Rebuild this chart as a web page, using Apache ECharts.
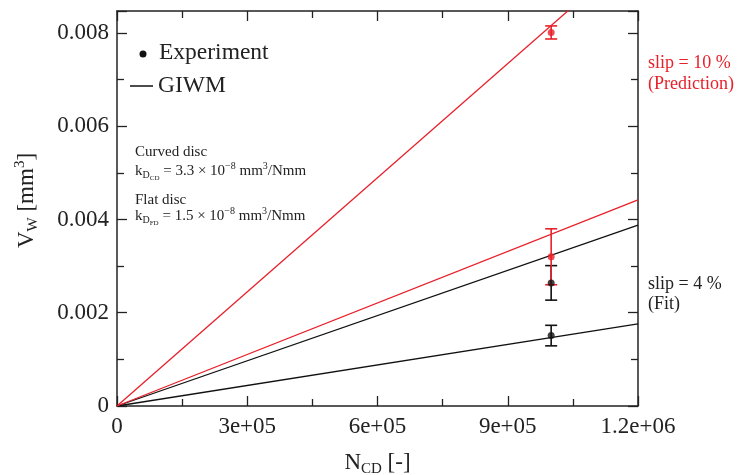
<!DOCTYPE html>
<html><head><meta charset="utf-8">
<script src="https://cdn.jsdelivr.net/npm/echarts@6/dist/echarts.min.js"></script>
<style>html,body{margin:0;padding:0;background:#fff}#c{width:740px;height:475px}</style>
</head><body><div id="c"></div>
<script>
// ---- data ----
const xMin = 0, xMax = 1200000, xStep = 300000;
const yMin = 0, yMax = 0.00847, yStep = 0.002;
const xTickLabels = {0:'0', 300000:'3e+05', 600000:'6e+05', 900000:'9e+05', 1200000:'1.2e+06'};
const yTickLabels = ['0','0.002','0.004','0.006','0.008'];
const lineX = [0, 1200000];
const predCurvedY = [0, 0.00979];   // slip = 10 %, curved disc (red)
const predFlatY   = [0, 0.00442];   // slip = 10 %, flat disc (red)
const fitCurvedY  = [0, 0.00388];   // slip = 4 %, curved disc (black)
const fitFlatY    = [0, 0.00176];   // slip = 4 %, flat disc (black)
const expX        = [1000000, 1000000];
const expRedY     = [0.00801, 0.00320];
const expRedErr   = [0.00014, 0.00060];
const expBlackY   = [0.00264, 0.00151];
const expBlackErr = [0.00037, 0.00022];

const RED = '#e8202a', BLACK = '#111';
const FONT = "'Liberation Serif', 'DejaVu Serif', serif";

const pairs = (xs, ys) => xs.map((x, i) => [x, ys[i]]);
const triples = (xs, ys, es) => xs.map((x, i) => [x, ys[i], es[i]]);

function errBar(color) {
  return function (params, api) {
    const x = api.value(0), y = api.value(1), e = api.value(2);
    const lo = api.coord([x, y - e]), hi = api.coord([x, y + e]);
    const w = 6;
    const st = { stroke: color, lineWidth: 1.6 };
    return { type: 'group', children: [
      { type: 'line', shape: { x1: lo[0], y1: lo[1], x2: hi[0], y2: hi[1] }, style: st },
      { type: 'line', shape: { x1: lo[0] - w, y1: lo[1], x2: lo[0] + w, y2: lo[1] }, style: st },
      { type: 'line', shape: { x1: hi[0] - w, y1: hi[1], x2: hi[0] + w, y2: hi[1] }, style: st }
    ]};
  };
}

const axisLine = { show: true, onZero: false, lineStyle: { color: '#222', width: 1.5 } };
const tick = { show: true, inside: true, length: 10, lineStyle: { color: '#222', width: 1.3 } };
const minor = { show: true, splitNumber: 2, length: 7, lineStyle: { color: '#222', width: 1.3 } };

const chart = echarts.init(document.getElementById('c'));
chart.setOption({
  animation: false,
  backgroundColor: '#fff',
  grid: { left: 117, right: 102, top: 11, bottom: 69, containLabel: false, outerBoundsMode: 'none' },
  xAxis: [
    { type: 'value', min: xMin, max: xMax, interval: xStep, position: 'bottom',
      axisLine, axisTick: tick, minorTick: minor, splitLine: { show: false },
      axisLabel: { margin: 9, color: '#222', fontFamily: FONT, fontSize: 23,
        formatter: v => xTickLabels[v] !== undefined ? xTickLabels[v] : '' },
      name: 'N{sub|CD} [-]', nameLocation: 'middle', nameGap: 42,
      nameTextStyle: { color: '#222', fontFamily: FONT, fontSize: 23,
        rich: { sub: { fontSize: 15, fontFamily: FONT, color: '#222', padding: [14, 0, 0, 0] } } } },
    { type: 'value', min: xMin, max: xMax, interval: xStep, position: 'top',
      axisLine, axisTick: tick, minorTick: minor, splitLine: { show: false }, axisLabel: { show: false } }
  ],
  yAxis: [
    { type: 'value', min: yMin, max: yMax, interval: yStep, position: 'left',
      axisLine, axisTick: tick, minorTick: minor, splitLine: { show: false },
      axisLabel: { margin: 8, color: '#222', fontFamily: FONT, fontSize: 23,
        formatter: v => { const i = Math.round(v / yStep); return Math.abs(v - i * yStep) < 1e-9 ? yTickLabels[i] : ''; } },
      name: 'V{sub|W} [mm{sup|3}]', nameLocation: 'middle', nameGap: 76, nameRotate: 90,
      nameTextStyle: { color: '#222', fontFamily: FONT, fontSize: 23, padding: [0, 0, 0, 16],
        rich: { sub: { fontSize: 15, fontFamily: FONT, color: '#222', padding: [14, 0, 0, 0] },
                sup: { fontSize: 15, fontFamily: FONT, color: '#222', padding: [0, 0, 12, 0] } } } },
    { type: 'value', min: yMin, max: yMax, interval: yStep, position: 'right',
      axisLine, axisTick: tick, minorTick: minor, splitLine: { show: false }, axisLabel: { show: false } }
  ],
  series: [
    { type: 'line', data: pairs(lineX, fitFlatY), symbol: 'none', lineStyle: { color: BLACK, width: 1.3 }, clip: true },
    { type: 'line', data: pairs(lineX, fitCurvedY), symbol: 'none', lineStyle: { color: BLACK, width: 1.3 }, clip: true },
    { type: 'line', data: pairs(lineX, predFlatY), symbol: 'none', lineStyle: { color: RED, width: 1.3 }, clip: true },
    { type: 'line', data: pairs(lineX, predCurvedY), symbol: 'none', lineStyle: { color: RED, width: 1.3 }, clip: true },
    { type: 'custom', renderItem: errBar(BLACK), data: triples(expX, expBlackY, expBlackErr), z: 5 },
    { type: 'custom', renderItem: errBar(RED), data: triples(expX, expRedY, expRedErr), z: 6 },
    { type: 'scatter', data: pairs(expX, expBlackY), symbolSize: 7, itemStyle: { color: BLACK }, z: 7 },
    { type: 'scatter', data: pairs(expX, expRedY), symbolSize: 7, itemStyle: { color: RED }, z: 8 }
  ],
  graphic: [
    { type: 'circle', shape: { cx: 143, cy: 54, r: 3.5 }, style: { fill: BLACK } },
    { type: 'text', x: 159, y: 53, style: { text: 'Experiment', font: "23.5px " + FONT, fill: '#222', verticalAlign: 'middle' } },
    { type: 'line', shape: { x1: 130, y1: 86, x2: 153, y2: 86 }, style: { stroke: BLACK, lineWidth: 1.5 } },
    { type: 'text', x: 158, y: 86, style: { text: 'GIWM', font: "23.5px " + FONT, fill: '#222', verticalAlign: 'middle' } },
    { type: 'text', x: 135, y: 152, style: { text: 'Curved disc', font: "15px " + FONT, fill: '#222', verticalAlign: 'middle' } },
    { type: 'text', x: 135, y: 171, style: {
        text: 'k{sub|D}{sub2|CD} = 3.3 × 10{sup|−8} mm{sup|3}/Nmm', font: "15px " + FONT, fill: '#222', verticalAlign: 'middle',
        rich: { sub: { fontSize: 10, fontFamily: FONT, padding: [8, 0, 0, 0] }, sub2: { fontSize: 7, fontFamily: FONT, padding: [14, 0, 0, 0] },
                sup: { fontSize: 10, fontFamily: FONT, padding: [0, 0, 9, 0] } } } },
    { type: 'text', x: 135, y: 200, style: { text: 'Flat disc', font: "15px " + FONT, fill: '#222', verticalAlign: 'middle' } },
    { type: 'text', x: 135, y: 216, style: {
        text: 'k{sub|D}{sub2|FD} = 1.5 × 10{sup|−8} mm{sup|3}/Nmm', font: "15px " + FONT, fill: '#222', verticalAlign: 'middle',
        rich: { sub: { fontSize: 10, fontFamily: FONT, padding: [8, 0, 0, 0] }, sub2: { fontSize: 7, fontFamily: FONT, padding: [14, 0, 0, 0] },
                sup: { fontSize: 10, fontFamily: FONT, padding: [0, 0, 9, 0] } } } },
    { type: 'text', x: 648, y: 63, style: { text: 'slip = 10 %', font: "18px " + FONT, fill: RED, verticalAlign: 'middle' } },
    { type: 'text', x: 648, y: 84, style: { text: '(Prediction)', font: "18px " + FONT, fill: RED, verticalAlign: 'middle' } },
    { type: 'text', x: 648, y: 284, style: { text: 'slip = 4 %', font: "18px " + FONT, fill: '#222', verticalAlign: 'middle' } },
    { type: 'text', x: 648, y: 304, style: { text: '(Fit)', font: "18px " + FONT, fill: '#222', verticalAlign: 'middle' } }
  ]
});
</script>
</body></html>
